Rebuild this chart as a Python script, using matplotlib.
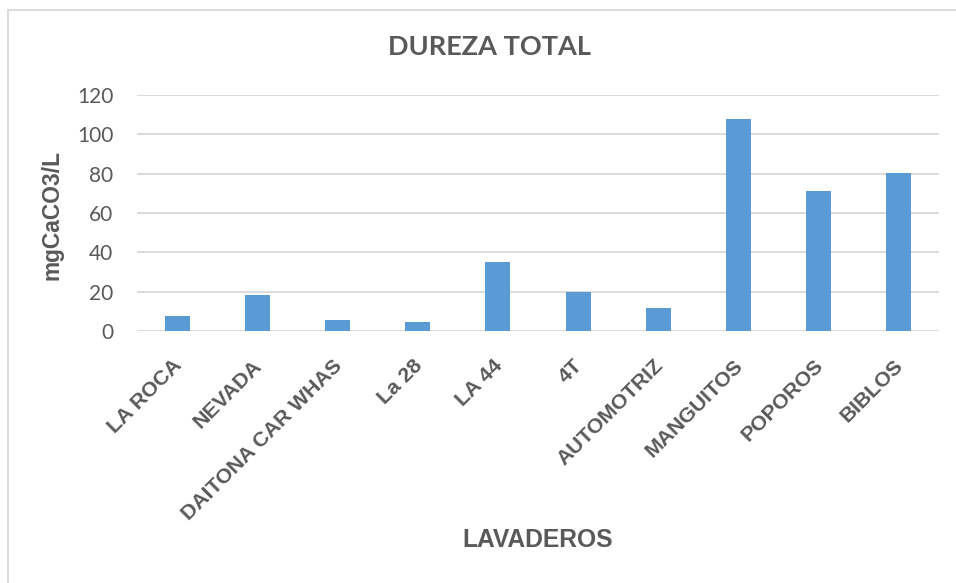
import matplotlib
matplotlib.use("Agg")
import matplotlib.pyplot as plt
import matplotlib.transforms as mtransforms
from matplotlib.patches import Rectangle

categories = ["LA ROCA", "NEVADA", "DAITONA CAR WHAS", "La 28", "LA 44", "4T",
              "AUTOMOTRIZ", "MANGUITOS", "POPOROS", "BIBLOS"]
values = [7.8, 18.3, 5.6, 4.7, 34.9, 19.6, 11.8, 108.0, 71.4, 80.4]
yticks = [0, 20, 40, 60, 80, 100, 120]

TXT = "#595959"
GRID = "#D9D9D9"
BAR = "#5B9BD5"

fig = plt.figure(figsize=(9.56, 5.83), dpi=100)
ax = fig.add_axes([137/956, 1-331/583, (939-137)/956, (331-95)/583])

x = list(range(len(categories)))
ax.bar(x, values, width=0.31, color=BAR, zorder=3)
ax.set_xlim(-0.5, len(categories) - 0.5)
ax.set_ylim(0, 120)
ax.set_yticks(yticks)
ax.set_yticklabels([str(t) for t in yticks], fontfamily="Lato", fontsize=15, color=TXT)
ax.yaxis.grid(True, color=GRID, linewidth=1.3, zorder=0)
ax.set_axisbelow(True)
for s in ax.spines.values():
    s.set_visible(False)
ax.tick_params(axis="y", length=0, pad=17)
ax.tick_params(axis="x", length=0, pad=18)
ax.set_xticks(x)
ax.set_xticklabels(categories, rotation=45, ha="right", va="top",
                   rotation_mode="anchor", fontfamily="Liberation Sans",
                   fontweight="bold", fontsize=15.3, color=TXT)
shift = mtransforms.ScaledTranslation(-5/100, 0, fig.dpi_scale_trans)
for lab in ax.get_xticklabels():
    lab.set_transform(lab.get_transform() + shift)

fig.text(489/956, 1-47/583, "DUREZA TOTAL", ha="center", va="center",
         fontfamily="Lato", fontweight="bold", fontsize=19.5, color=TXT)
fig.text(52/956, 1-215/583, "mgCaCO3/L", ha="center", va="center", rotation=90,
         fontfamily="Liberation Sans", fontweight="bold", fontsize=16.4, color=TXT)
fig.text(538/956, 1-540/583, "LAVADEROS", ha="center", va="center",
         fontfamily="Liberation Sans", fontweight="bold", fontsize=17.7, color=TXT)

fig.add_artist(Rectangle((8/956, -0.05), 1.1, 1.05 - 10/583, transform=fig.transFigure,
                         fill=False, edgecolor=GRID, linewidth=1.3))

fig.savefig("out.png", dpi=100)
